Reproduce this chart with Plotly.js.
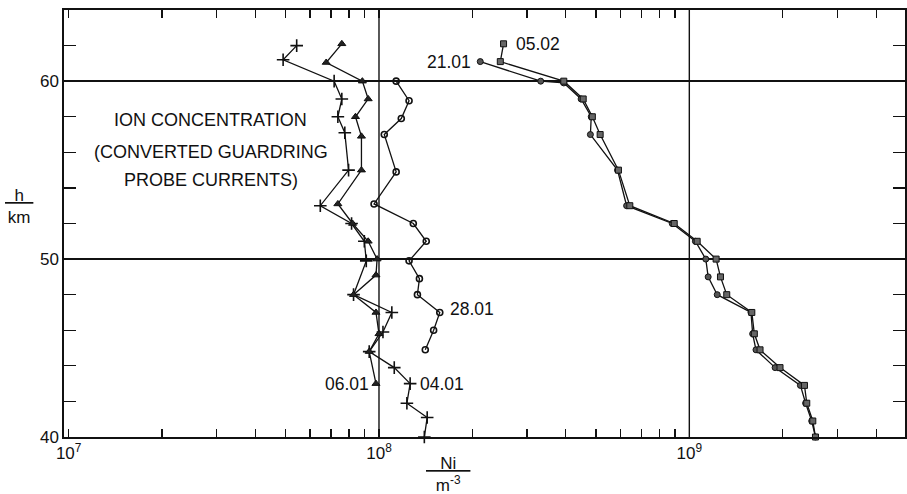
<!DOCTYPE html>
<html>
<head>
<meta charset="utf-8">
<script src="https://cdn.plot.ly/plotly-3.0.1.min.js"></script>
<style>html,body{margin:0;padding:0;background:#fff;}#chart{width:907px;height:494px;}</style>
</head>
<body>
<div id="chart"></div>
<script>
// Heights (km) and ion concentrations Ni (m^-3)
const h0401 = [62.0, 61.2, 60.0, 59.0, 58.0, 57.1, 55.0, 53.0, 52.0, 51.0, 49.9, 48.0, 47.0, 45.9, 44.8, 43.9, 43.0, 41.9, 41.1, 40.0];
const n0401 = [5.43e7, 4.91e7, 7.17e7, 7.59e7, 7.37e7, 7.76e7, 7.98e7, 6.47e7, 8.16e7, 8.97e7, 9.10e7, 8.28e7, 1.10e8, 1.03e8, 9.30e7, 1.12e8, 1.26e8, 1.23e8, 1.43e8, 1.40e8];

const h0601 = [62.1, 61.05, 60.0, 59.0, 58.0, 56.9, 55.0, 53.1, 52.0, 51.0, 50.0, 49.1, 48.0, 47.0, 45.8, 44.8, 43.0];
const n0601 = [7.59e7, 6.76e7, 8.84e7, 9.23e7, 8.40e7, 8.78e7, 8.78e7, 7.37e7, 8.22e7, 9.23e7, 9.86e7, 9.78e7, 8.28e7, 9.78e7, 1.00e8, 9.30e7, 9.78e7];

const h2801 = [60.0, 58.9, 57.9, 57.0, 54.9, 53.1, 52.0, 51.0, 49.9, 48.9, 48.0, 47.0, 46.0, 44.9];
const n2801 = [1.136e8, 1.25e8, 1.18e8, 1.04e8, 1.136e8, 9.64e7, 1.29e8, 1.42e8, 1.25e8, 1.35e8, 1.33e8, 1.57e8, 1.50e8, 1.41e8];

const h2101 = [61.1, 60.0, 59.9, 59.0, 58.0, 57.0, 55.0, 53.0, 52.0, 51.0, 50.0, 49.0, 48.0, 47.0, 45.8, 44.9, 43.9, 42.9, 41.9, 40.9, 40.0];
const n2101 = [2.12e8, 3.32e8, 3.94e8, 4.48e8, 4.83e8, 4.80e8, 5.87e8, 6.28e8, 8.81e8, 1.046e9, 1.13e9, 1.15e9, 1.23e9, 1.58e9, 1.60e9, 1.64e9, 1.89e9, 2.28e9, 2.37e9, 2.48e9, 2.55e9];

const h0502 = [62.1, 61.1, 60.0, 59.0, 58.0, 57.0, 55.0, 53.0, 52.0, 51.0, 50.0, 49.0, 48.0, 47.0, 45.8, 44.9, 43.9, 42.9, 41.9, 40.9, 40.0];
const n0502 = [2.52e8, 2.46e8, 3.94e8, 4.55e8, 4.87e8, 5.16e8, 5.91e8, 6.43e8, 8.94e8, 1.06e9, 1.22e9, 1.26e9, 1.32e9, 1.59e9, 1.62e9, 1.69e9, 1.96e9, 2.35e9, 2.39e9, 2.50e9, 2.55e9];

// Axis ticks
const xTickVals = [1e7, 2e7,3e7,4e7,5e7,6e7,7e7,8e7,9e7, 1e8, 2e8,3e8,4e8,5e8,6e8,7e8,8e8,9e8, 1e9, 2e9,3e9,4e9];
const xTickText = xTickVals.map(v => {
  const e = Math.log10(v);
  return Number.isInteger(e) ? '10<sup>' + e + '</sup>' : '';
});
const xGridVals = [1e8, 1e9];
const yMajorVals = [40, 50, 60];
const yMinorVals = [42, 44, 46, 48, 52, 54, 56, 58, 62];

const INK = '#111';
const FONT = 'Liberation Sans, Arial, Helvetica, sans-serif';

function series(x, y, name, marker) {
  return {x: x, y: y, name: name, type: 'scatter', mode: 'lines+markers',
          line: {color: INK, width: 1.3}, marker: marker, cliponaxis: false, showlegend: false};
}

const traces = [
  series(n0401, h0401, '04.01', {symbol: 'cross-thin-open', size: 9, line: {color: INK, width: 1.6}}),
  series(n0601, h0601, '06.01', {symbol: 'triangle-up', size: 7, color: '#222', line: {color: INK, width: 1}}),
  series(n2801, h2801, '28.01', {symbol: 'circle-open', size: 6, line: {color: INK, width: 1.6}}),
  series(n2101, h2101, '21.01', {symbol: 'circle', size: 6, color: '#555', line: {color: INK, width: 1}}),
  series(n0502, h0502, '05.02', {symbol: 'square', size: 6, color: '#666', line: {color: INK, width: 1}})
];

const lg = Math.log10;
function label(text, xv, yv, anchor, xs, ys) {
  return {text: text, x: lg(xv), y: yv, xref: 'x', yref: 'y', showarrow: false,
          xanchor: anchor, yanchor: 'middle', xshift: xs, yshift: ys || 0,
          font: {family: FONT, size: 17.5, color: INK}};
}
function note(text, px, py) {
  return {text: text, x: px, y: py, xref: 'paper', yref: 'paper', showarrow: false,
          xanchor: 'center', yanchor: 'middle', font: {family: FONT, size: 18, color: INK}};
}

const annotations = [
  label('04.01', n0401[16], h0401[16], 'left', 8, 0),
  label('06.01', n0601[n0601.length-1], h0601[h0601.length-1], 'right', -5, 0),
  label('28.01', n2801[11], h2801[11], 'left', 8, 3),
  label('21.01', n2101[0], h2101[0], 'right', -7, 0),
  label('05.02', n0502[0], h0502[0], 'left', 10, 0),
  note('ION CONCENTRATION', 0.1745, 0.742),
  note('(CONVERTED GUARDRING', 0.1745, 0.667),
  note('PROBE CURRENTS)', 0.1745, 0.602),
  {text: '<u>&nbsp;&nbsp;h&nbsp;&nbsp;</u><br>km', x: -0.054, y: 0.54, xref: 'paper', yref: 'paper',
   showarrow: false, xanchor: 'center', yanchor: 'middle', align: 'center',
   font: {family: FONT, size: 17, color: INK}},
  {text: '<u>&nbsp;&nbsp;&nbsp;Ni&nbsp;&nbsp;&nbsp;</u><br>m<sup>-3</sup>', x: 0.457, y: -0.036, xref: 'paper', yref: 'paper',
   showarrow: false, xanchor: 'center', yanchor: 'top', align: 'center',
   font: {family: FONT, size: 17, color: INK}}
];

// full-height decade grid lines, placed on the x axis scale (shapes on log axes take data values)
const shapes = xGridVals.map(v => ({
  type: 'line', xref: 'x', yref: 'paper', x0: v, x1: v, y0: 0, y1: 1,
  layer: 'below', line: {color: INK, width: 1.4}
}));

const layout = {
  width: 907, height: 494,
  margin: {l: 64, r: 2, t: 10, b: 57, pad: 0},
  paper_bgcolor: '#fff', plot_bgcolor: 'rgba(0,0,0,0)',
  font: {family: FONT, size: 17, color: INK},
  showlegend: false,
  xaxis: {
    type: 'log', range: [6.985, 9.695], autorange: false,
    tickmode: 'array', tickvals: xTickVals, ticktext: xTickText,
    showgrid: false, zeroline: false, showline: true, linecolor: INK, linewidth: 1.6,
    mirror: 'ticks', ticks: 'inside', ticklen: 8, tickwidth: 1.3, tickcolor: INK,
    tickfont: {family: FONT, size: 17, color: INK}
  },
  yaxis: {
    range: [40, 64], autorange: false, tickmode: 'array', tickvals: yMajorVals,
    showgrid: true, gridcolor: INK, gridwidth: 1.4, zeroline: false,
    showline: true, linecolor: INK, linewidth: 1.6, mirror: 'ticks',
    ticks: 'inside', ticklen: 12, tickwidth: 1.3, tickcolor: INK,
    tickfont: {family: FONT, size: 17, color: INK},
    minor: {tickmode: 'array', tickvals: yMinorVals, ticks: 'inside', ticklen: 12, tickwidth: 1.3, tickcolor: INK, showgrid: false}
  },
  shapes: shapes,
  annotations: annotations
};

Plotly.newPlot('chart', traces, layout, {displayModeBar: false, staticPlot: true});
</script>
</body>
</html>
